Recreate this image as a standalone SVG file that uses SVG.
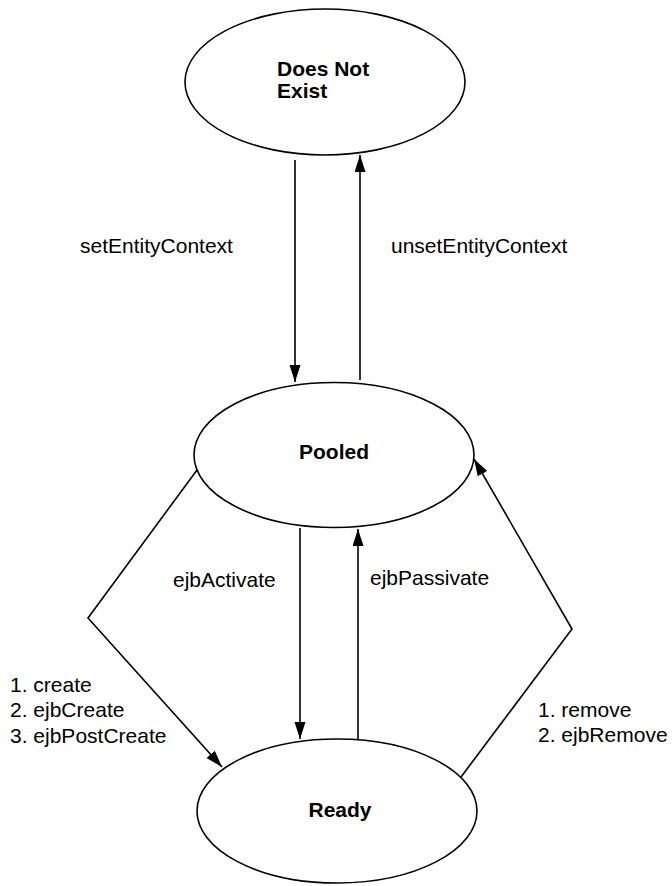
<svg xmlns="http://www.w3.org/2000/svg" width="672" height="886" viewBox="0 0 672 886">
<style>
.st{fill:#fff;stroke:#000;stroke-width:1.6}
.ln{fill:none;stroke:#000;stroke-width:1.6}
.t{font-family:"Liberation Sans",Arial,sans-serif;font-size:21px;fill:#000}
.b{font-weight:bold}
</style>
<defs>
<marker id="ah" markerUnits="userSpaceOnUse" markerWidth="18" markerHeight="12" refX="17" refY="5.5" orient="auto">
<path d="M0,0 L17,5.5 L0,11 Z" fill="#000"/>
</marker>
</defs>
<rect width="672" height="886" fill="#fff"/>
<g id="connectors">
<line class="ln" x1="295" y1="160" x2="295" y2="382" marker-end="url(#ah)"/>
<line class="ln" x1="360" y1="380" x2="360" y2="155" marker-end="url(#ah)"/>
<line class="ln" x1="300" y1="528" x2="300" y2="739" marker-end="url(#ah)"/>
<line class="ln" x1="358" y1="739" x2="358" y2="529" marker-end="url(#ah)"/>
<polyline class="ln" points="197,470 88,618 222,767" marker-end="url(#ah)"/>
<polyline class="ln" points="461,777 572,629 474,459" marker-end="url(#ah)"/>
<text class="t" x="80" y="253">setEntityContext</text>
<text class="t" x="391" y="253">unsetEntityContext</text>
<text class="t" x="173" y="587">ejbActivate</text>
<text class="t" x="370" y="585">ejbPassivate</text>
<text class="t" x="10" y="692">1. create</text>
<text class="t" x="10" y="717">2. ejbCreate</text>
<text class="t" x="10" y="743">3. ejbPostCreate</text>
<text class="t" x="538" y="717">1. remove</text>
<text class="t" x="538" y="742">2. ejbRemove</text>
</g>
<g id="does-not-exist">
<ellipse class="st" cx="325" cy="82" rx="140" ry="73"/>
<text class="t b" x="277" y="76">Does Not</text>
<text class="t b" x="277" y="98">Exist</text>
</g>
<g id="pooled">
<ellipse class="st" cx="334" cy="455" rx="140" ry="72.5"/>
<text class="t b" x="334" y="459" text-anchor="middle">Pooled</text>
</g>
<g id="ready">
<ellipse class="st" cx="337" cy="811" rx="140" ry="72"/>
<text class="t b" x="340" y="817" text-anchor="middle">Ready</text>
</g>
</svg>
